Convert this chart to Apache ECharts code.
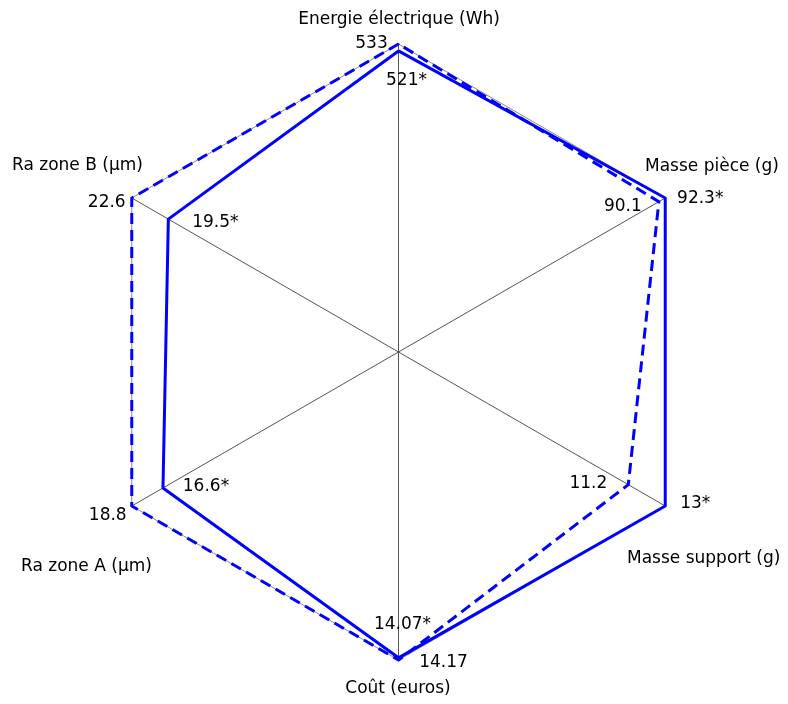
<!DOCTYPE html>
<html>
<head>
<meta charset="utf-8">
<script src="https://cdn.jsdelivr.net/npm/echarts@6/dist/echarts.min.js"></script>
<style>
  html, body { margin: 0; padding: 0; background: #ffffff; }
  #chart { width: 788px; height: 704px; }
</style>
</head>
<body>
<div id="chart"></div>
<script>
// Axes, listed counter-clockwise starting from the top
const indicatorNames = ['Energie électrique (Wh)', 'Ra zone B (µm)', 'Ra zone A (µm)', 'Coût (euros)', 'Masse support (g)', 'Masse pièce (g)'];
// Solid profile (values flagged with *)
const solidValues = [521, 19.5, 16.6, 14.07, 13, 92.3];
// Dashed profile
const dashedValues = [533, 22.6, 18.8, 14.17, 11.2, 90.1];

// Value label offsets from their vertex [dx, dy], per axis
const solidLabelOffsets = [[8, 30], [47, 3], [43, -1], [4, -33], [30, -2], [35, 1]];
const dashedLabelOffsets = [[-27, 0], [-25, 5], [-24, 10], [45, 3], [-40, -1], [-36, 5]];

// Axis name placement
const namePlacement = [
  { x: 399, y: 20, align: 'center' },
  { x: 12, y: 166, align: 'left' },
  { x: 21, y: 567, align: 'left' },
  { x: 398, y: 689, align: 'center' },
  { x: 627, y: 559, align: 'left' },
  { x: 645, y: 167, align: 'left' }
];

const FONT = 'DejaVu Sans';
const BLUE = '#0000ff';

const indicators = indicatorNames.map((n, i) => ({
  name: n,
  min: 0,
  max: Math.max(solidValues[i], dashedValues[i])
}));

const solidTexts = solidValues.map(v => v + '*');
const dashedTexts = dashedValues.map(v => String(v));

const chart = echarts.init(document.getElementById('chart'), null, { renderer: 'canvas' });

chart.setOption({
  backgroundColor: '#ffffff',
  animation: false,
  radar: {
    center: [398.5, 352],
    radius: 308,
    startAngle: 90,
    shape: 'polygon',
    splitNumber: 1,
    indicator: indicators,
    axisName: { show: false },
    axisLine: { lineStyle: { color: '#555555', width: 1 } },
    splitLine: { lineStyle: { color: '#8a8a8a', width: 1 } },
    splitArea: { show: false },
    axisTick: { show: false },
    axisLabel: { show: false }
  },
  graphic: namePlacement.map((p, i) => ({
    type: 'text',
    x: p.x,
    y: p.y,
    style: {
      text: indicatorNames[i],
      fill: '#000000',
      font: '17px "' + FONT + '"',
      textAlign: p.align,
      textVerticalAlign: 'middle'
    },
    z: 10
  })),
  series: [{
    type: 'radar',
    symbol: 'circle',
    symbolSize: 2,
    label: {
      show: true,
      position: 'inside',
      color: '#000000',
      fontFamily: FONT,
      fontSize: 17,
      formatter: p => (p.dataIndex === 0 ? solidTexts : dashedTexts)[p.dimensionIndex]
    },
    labelLayout: function (p) {
      const texts = p.dataIndex === 0 ? solidTexts : dashedTexts;
      const offsets = p.dataIndex === 0 ? solidLabelOffsets : dashedLabelOffsets;
      const k = texts.indexOf(p.text);
      if (k < 0) return {};
      return { dx: offsets[k][0], dy: offsets[k][1] };
    },
    data: [
      {
        name: 'solid',
        value: solidValues,
        itemStyle: { color: BLUE },
        lineStyle: { color: BLUE, width: 3, type: 'solid' }
      },
      {
        name: 'dashed',
        value: dashedValues,
        itemStyle: { color: BLUE },
        lineStyle: { color: BLUE, width: 3, type: [11, 6] }
      }
    ]
  }]
});
</script>
</body>
</html>
